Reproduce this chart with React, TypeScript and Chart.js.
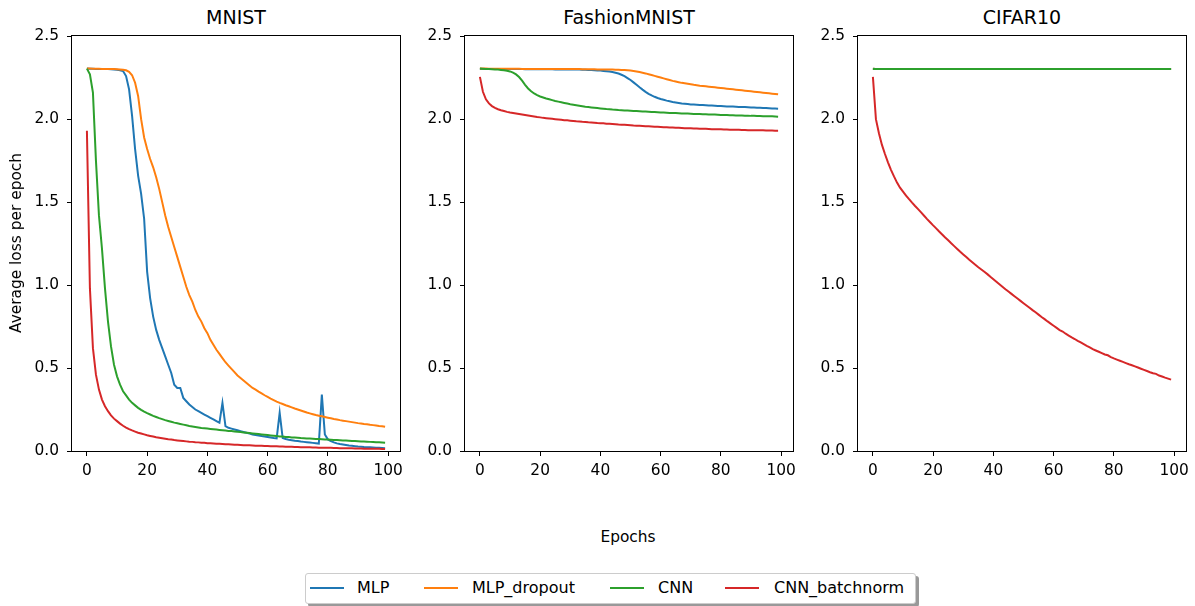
import React, { useEffect, useRef } from "react";
import { Chart, registerables } from "chart.js";

Chart.register(...registerables);

const EPOCHS = [
  0, 1, 2, 3, 4, 5, 6, 7, 8, 9, 10, 11, 12, 13, 14, 15, 16, 17, 18, 19,
  20, 21, 22, 23, 24, 25, 26, 27, 28, 29, 30, 31, 32, 33, 34, 35, 36, 37, 38, 39,
  40, 41, 42, 43, 44, 45, 46, 47, 48, 49, 50, 51, 52, 53, 54, 55, 56, 57, 58, 59,
  60, 61, 62, 63, 64, 65, 66, 67, 68, 69, 70, 71, 72, 73, 74, 75, 76, 77, 78, 79,
  80, 81, 82, 83, 84, 85, 86, 87, 88, 89, 90, 91, 92, 93, 94, 95, 96, 97, 98, 99,
];

const SERIES_NAMES = ["MLP", "MLP_dropout", "CNN", "CNN_batchnorm"];
const SERIES_COLORS = ["#1f77b4", "#ff7f0e", "#2ca02c", "#d62728"];
const PANEL_TITLES = ["MNIST", "FashionMNIST", "CIFAR10"];
const X_TICKS = [0, 20, 40, 60, 80, 100];
const Y_TICKS = [0, 0.5, 1, 1.5, 2, 2.5];

// ---------- MNIST ----------
const MNIST_MLP = [
  2.305, 2.304, 2.304, 2.303, 2.303, 2.303, 2.302, 2.302, 2.301, 2.3,
  2.298, 2.295, 2.29, 2.26, 2.18, 2.02, 1.82, 1.66, 1.55, 1.4,
  1.08, 0.92, 0.81, 0.73, 0.67, 0.62, 0.57, 0.52, 0.47, 0.4,
  0.38, 0.38, 0.32, 0.3, 0.28, 0.265, 0.25, 0.24, 0.23, 0.22,
  0.21, 0.2, 0.19, 0.18, 0.17, 0.29, 0.15, 0.14, 0.135, 0.13,
  0.125, 0.12, 0.115, 0.11, 0.105, 0.1, 0.097, 0.094, 0.09, 0.087,
  0.084, 0.081, 0.078, 0.076, 0.23, 0.078, 0.072, 0.068, 0.065, 0.062,
  0.06, 0.057, 0.055, 0.053, 0.051, 0.049, 0.047, 0.045, 0.34, 0.1,
  0.07, 0.06, 0.052, 0.046, 0.042, 0.039, 0.036, 0.033, 0.031, 0.029,
  0.027, 0.026, 0.024, 0.023, 0.022, 0.021, 0.02, 0.019, 0.018, 0.017,
];
const MNIST_MLP_DROPOUT = [
  2.305, 2.305, 2.304, 2.304, 2.304, 2.303, 2.303, 2.303, 2.302, 2.302,
  2.301, 2.3, 2.298, 2.295, 2.285, 2.265, 2.22, 2.14, 2.0, 1.89,
  1.82, 1.76, 1.71, 1.65, 1.58, 1.5, 1.42, 1.35, 1.29, 1.23,
  1.17, 1.11, 1.05, 0.99, 0.94, 0.9, 0.85, 0.81, 0.78, 0.74,
  0.71, 0.67, 0.64, 0.61, 0.585, 0.56, 0.535, 0.515, 0.495, 0.475,
  0.455, 0.44, 0.425, 0.41, 0.395, 0.38, 0.37, 0.358, 0.347, 0.336,
  0.326, 0.316, 0.307, 0.298, 0.29, 0.283, 0.276, 0.27, 0.263, 0.256,
  0.25, 0.244, 0.238, 0.232, 0.227, 0.222, 0.217, 0.213, 0.209, 0.205,
  0.201, 0.197, 0.193, 0.19, 0.186, 0.183, 0.18, 0.177, 0.174, 0.171,
  0.168, 0.166, 0.163, 0.161, 0.158, 0.156, 0.154, 0.151, 0.149, 0.146,
];
const MNIST_CNN = [
  2.305, 2.27, 2.16, 1.75, 1.42, 1.22, 0.98, 0.78, 0.63, 0.52,
  0.45, 0.4, 0.36, 0.335, 0.31, 0.29, 0.275, 0.26, 0.248, 0.237,
  0.228, 0.22, 0.212, 0.205, 0.198, 0.192, 0.186, 0.181, 0.176, 0.171,
  0.167, 0.163, 0.159, 0.155, 0.151, 0.148, 0.145, 0.142, 0.139, 0.137,
  0.135, 0.133, 0.131, 0.129, 0.127, 0.125, 0.123, 0.121, 0.12, 0.118,
  0.116, 0.114, 0.112, 0.11, 0.108, 0.106, 0.104, 0.102, 0.1, 0.098,
  0.096, 0.094, 0.092, 0.09, 0.088, 0.087, 0.085, 0.084, 0.082, 0.081,
  0.08, 0.078, 0.077, 0.076, 0.075, 0.074, 0.073, 0.072, 0.071, 0.07,
  0.069, 0.068, 0.067, 0.066, 0.065, 0.064, 0.063, 0.062, 0.061, 0.06,
  0.059, 0.058, 0.057, 0.056, 0.055, 0.054, 0.053, 0.052, 0.051, 0.05,
];
const MNIST_CNN_BN = [
  1.93, 0.98, 0.62, 0.46, 0.37, 0.31, 0.27, 0.24, 0.215, 0.195,
  0.18, 0.165, 0.152, 0.141, 0.132, 0.124, 0.117, 0.11, 0.105, 0.1,
  0.095, 0.091, 0.087, 0.083, 0.08, 0.077, 0.074, 0.071, 0.069, 0.066,
  0.064, 0.062, 0.06, 0.058, 0.056, 0.055, 0.053, 0.052, 0.05, 0.049,
  0.047, 0.046, 0.045, 0.044, 0.043, 0.042, 0.041, 0.04, 0.039, 0.038,
  0.037, 0.036, 0.035, 0.035, 0.034, 0.033, 0.032, 0.032, 0.031, 0.03,
  0.03, 0.029, 0.028, 0.028, 0.027, 0.027, 0.026, 0.025, 0.025, 0.024,
  0.024, 0.023, 0.023, 0.022, 0.022, 0.021, 0.021, 0.02, 0.02, 0.019,
  0.019, 0.019, 0.018, 0.018, 0.017, 0.017, 0.017, 0.016, 0.016, 0.015,
  0.015, 0.015, 0.014, 0.014, 0.014, 0.013, 0.013, 0.013, 0.012, 0.012,
];

// ---------- FashionMNIST ----------
const FASHION_MLP = [
  2.303, 2.303, 2.302, 2.302, 2.302, 2.302, 2.302, 2.302, 2.302, 2.302,
  2.302, 2.302, 2.302, 2.302, 2.302, 2.301, 2.301, 2.301, 2.301, 2.301,
  2.301, 2.301, 2.301, 2.301, 2.301, 2.3, 2.3, 2.3, 2.3, 2.3,
  2.3, 2.299, 2.299, 2.299, 2.298, 2.298, 2.297, 2.296, 2.295, 2.294,
  2.293, 2.291, 2.289, 2.287, 2.284, 2.28, 2.275, 2.268, 2.259, 2.248,
  2.236, 2.222, 2.207, 2.192, 2.178, 2.165, 2.153, 2.143, 2.135, 2.128,
  2.122, 2.117, 2.112, 2.108, 2.104, 2.101, 2.098, 2.095, 2.093, 2.091,
  2.089, 2.088, 2.087, 2.086, 2.085, 2.084, 2.083, 2.082, 2.081, 2.08,
  2.079, 2.078, 2.077, 2.077, 2.076, 2.075, 2.074, 2.073, 2.073, 2.072,
  2.071, 2.07, 2.069, 2.069, 2.068, 2.067, 2.066, 2.065, 2.064, 2.063,
];
const FASHION_MLP_DROPOUT = [
  2.305, 2.305, 2.305, 2.304, 2.304, 2.304, 2.304, 2.304, 2.304, 2.304,
  2.304, 2.304, 2.304, 2.304, 2.303, 2.303, 2.303, 2.303, 2.303, 2.303,
  2.303, 2.303, 2.303, 2.303, 2.303, 2.302, 2.302, 2.302, 2.302, 2.302,
  2.302, 2.302, 2.302, 2.302, 2.301, 2.301, 2.301, 2.301, 2.301, 2.3,
  2.3, 2.3, 2.3, 2.299, 2.299, 2.298, 2.298, 2.297, 2.296, 2.295,
  2.293, 2.291, 2.288, 2.284, 2.28, 2.276, 2.271, 2.266, 2.261, 2.256,
  2.251, 2.246, 2.241, 2.236, 2.231, 2.227, 2.223, 2.219, 2.216, 2.213,
  2.21, 2.207, 2.205, 2.202, 2.2, 2.198, 2.196, 2.194, 2.192, 2.19,
  2.188, 2.186, 2.184, 2.182, 2.18, 2.178, 2.176, 2.174, 2.172, 2.17,
  2.168, 2.166, 2.164, 2.162, 2.16, 2.158, 2.156, 2.154, 2.152, 2.15,
];
const FASHION_CNN = [
  2.305, 2.304, 2.303, 2.302, 2.301, 2.3, 2.299, 2.297, 2.295, 2.292,
  2.288, 2.281, 2.27, 2.254, 2.232, 2.207, 2.185, 2.168, 2.155, 2.145,
  2.137, 2.131, 2.125, 2.12, 2.115, 2.11, 2.106, 2.102, 2.098, 2.094,
  2.09, 2.087, 2.084, 2.081, 2.078, 2.075, 2.073, 2.071, 2.069, 2.067,
  2.065, 2.063, 2.061, 2.06, 2.058, 2.057, 2.055, 2.054, 2.053, 2.052,
  2.051, 2.05, 2.049, 2.048, 2.047, 2.046, 2.045, 2.044, 2.043, 2.042,
  2.041, 2.04, 2.039, 2.038, 2.038, 2.037, 2.036, 2.035, 2.035, 2.034,
  2.033, 2.032, 2.032, 2.031, 2.03, 2.03, 2.029, 2.028, 2.028, 2.027,
  2.026, 2.026, 2.025, 2.024, 2.024, 2.023, 2.023, 2.022, 2.021, 2.021,
  2.02, 2.02, 2.019, 2.019, 2.018, 2.018, 2.017, 2.017, 2.016, 2.015,
];
const FASHION_CNN_BN = [
  2.255, 2.165, 2.12, 2.095, 2.079, 2.068, 2.06, 2.054, 2.049, 2.044,
  2.04, 2.037, 2.034, 2.031, 2.028, 2.025, 2.022, 2.019, 2.016, 2.013,
  2.011, 2.008, 2.006, 2.004, 2.002, 2.0, 1.998, 1.996, 1.994, 1.993,
  1.991, 1.989, 1.987, 1.986, 1.984, 1.983, 1.981, 1.98, 1.979, 1.977,
  1.976, 1.975, 1.973, 1.972, 1.971, 1.97, 1.968, 1.967, 1.966, 1.965,
  1.964, 1.962, 1.961, 1.96, 1.959, 1.958, 1.957, 1.956, 1.955, 1.954,
  1.953, 1.952, 1.951, 1.95, 1.95, 1.949, 1.948, 1.947, 1.946, 1.946,
  1.945, 1.944, 1.944, 1.943, 1.942, 1.942, 1.941, 1.94, 1.94, 1.939,
  1.939, 1.938, 1.938, 1.937, 1.937, 1.936, 1.936, 1.935, 1.935, 1.934,
  1.934, 1.934, 1.933, 1.933, 1.933, 1.932, 1.932, 1.932, 1.931, 1.931,
];

// ---------- CIFAR10 ----------
const CIFAR_MLP = [
  2.304, 2.303, 2.303, 2.303, 2.303, 2.303, 2.303, 2.303, 2.303, 2.303,
  2.303, 2.303, 2.303, 2.303, 2.303, 2.303, 2.303, 2.303, 2.303, 2.303,
  2.303, 2.303, 2.303, 2.303, 2.303, 2.303, 2.303, 2.303, 2.303, 2.303,
  2.303, 2.303, 2.303, 2.303, 2.303, 2.303, 2.303, 2.303, 2.303, 2.303,
  2.303, 2.303, 2.303, 2.303, 2.303, 2.303, 2.303, 2.303, 2.303, 2.303,
  2.303, 2.303, 2.303, 2.303, 2.303, 2.303, 2.303, 2.303, 2.303, 2.303,
  2.303, 2.303, 2.303, 2.303, 2.303, 2.303, 2.303, 2.303, 2.303, 2.303,
  2.303, 2.303, 2.303, 2.303, 2.303, 2.303, 2.303, 2.303, 2.303, 2.303,
  2.303, 2.303, 2.303, 2.303, 2.303, 2.303, 2.303, 2.303, 2.303, 2.303,
  2.303, 2.303, 2.303, 2.303, 2.303, 2.303, 2.303, 2.303, 2.303, 2.303,
];
const CIFAR_MLP_DROPOUT = [
  2.304, 2.303, 2.303, 2.303, 2.303, 2.303, 2.303, 2.303, 2.303, 2.303,
  2.303, 2.303, 2.303, 2.303, 2.303, 2.303, 2.303, 2.303, 2.303, 2.303,
  2.303, 2.303, 2.303, 2.303, 2.303, 2.303, 2.303, 2.303, 2.303, 2.303,
  2.303, 2.303, 2.303, 2.303, 2.303, 2.303, 2.303, 2.303, 2.303, 2.303,
  2.303, 2.303, 2.303, 2.303, 2.303, 2.303, 2.303, 2.303, 2.303, 2.303,
  2.303, 2.303, 2.303, 2.303, 2.303, 2.303, 2.303, 2.303, 2.303, 2.303,
  2.303, 2.303, 2.303, 2.303, 2.303, 2.303, 2.303, 2.303, 2.303, 2.303,
  2.303, 2.303, 2.303, 2.303, 2.303, 2.303, 2.303, 2.303, 2.303, 2.303,
  2.303, 2.303, 2.303, 2.303, 2.303, 2.303, 2.303, 2.303, 2.303, 2.303,
  2.303, 2.303, 2.303, 2.303, 2.303, 2.303, 2.303, 2.303, 2.303, 2.303,
];
const CIFAR_CNN = [
  2.303, 2.303, 2.303, 2.303, 2.303, 2.303, 2.303, 2.303, 2.303, 2.303,
  2.303, 2.303, 2.303, 2.303, 2.303, 2.303, 2.303, 2.303, 2.303, 2.303,
  2.303, 2.303, 2.303, 2.303, 2.303, 2.303, 2.303, 2.303, 2.303, 2.303,
  2.303, 2.303, 2.303, 2.303, 2.303, 2.303, 2.303, 2.303, 2.303, 2.303,
  2.303, 2.303, 2.303, 2.303, 2.303, 2.303, 2.303, 2.303, 2.303, 2.303,
  2.303, 2.303, 2.303, 2.303, 2.303, 2.303, 2.303, 2.303, 2.303, 2.303,
  2.303, 2.303, 2.303, 2.303, 2.303, 2.303, 2.303, 2.303, 2.303, 2.303,
  2.303, 2.303, 2.303, 2.303, 2.303, 2.303, 2.303, 2.303, 2.303, 2.303,
  2.303, 2.303, 2.303, 2.303, 2.303, 2.303, 2.303, 2.303, 2.303, 2.303,
  2.303, 2.303, 2.303, 2.303, 2.303, 2.303, 2.303, 2.303, 2.303, 2.303,
];
const CIFAR_CNN_BN = [
  2.255, 2.0, 1.915, 1.845, 1.79, 1.74, 1.695, 1.655, 1.618, 1.587,
  1.563, 1.54, 1.518, 1.497, 1.477, 1.458, 1.438, 1.418, 1.398, 1.379,
  1.36, 1.342, 1.323, 1.305, 1.287, 1.27, 1.252, 1.235, 1.218, 1.201,
  1.185, 1.169, 1.153, 1.138, 1.123, 1.108, 1.094, 1.08, 1.066, 1.05,
  1.035, 1.02, 1.005, 0.99, 0.975, 0.961, 0.947, 0.933, 0.919, 0.905,
  0.891, 0.877, 0.863, 0.849, 0.836, 0.822, 0.808, 0.795, 0.781, 0.768,
  0.755, 0.742, 0.729, 0.72, 0.707, 0.696, 0.685, 0.675, 0.664, 0.654,
  0.644, 0.634, 0.625, 0.614, 0.606, 0.598, 0.59, 0.582, 0.577, 0.566,
  0.558, 0.551, 0.544, 0.537, 0.53, 0.523, 0.517, 0.51, 0.503, 0.496,
  0.489, 0.482, 0.475, 0.469, 0.465, 0.455, 0.449, 0.442, 0.436, 0.43,
];

const PANEL_SERIES = [
  [MNIST_MLP, MNIST_MLP_DROPOUT, MNIST_CNN, MNIST_CNN_BN],
  [FASHION_MLP, FASHION_MLP_DROPOUT, FASHION_CNN, FASHION_CNN_BN],
  [CIFAR_MLP, CIFAR_MLP_DROPOUT, CIFAR_CNN, CIFAR_CNN_BN],
];

const FONT = "'DejaVu Sans', sans-serif";
const PLOT_LEFTS = [72, 465, 858];
const PLOT_W = 328;
const PLOT_TOP = 36;
const PLOT_H = 415;
const YAXIS_W = 60;
const XAXIS_H = 40;
const PAD_TOP = 12;
const PAD_RIGHT = 10;

const boxPlugin = {
  id: "frameBox",
  afterDraw(chart: any) {
    const { ctx, chartArea: a } = chart;
    ctx.save();
    ctx.strokeStyle = "#000";
    ctx.lineWidth = 1;
    ctx.strokeRect(
      Math.round(a.left) - 0.5,
      Math.round(a.top) - 0.5,
      Math.round(a.right - a.left) + 1,
      Math.round(a.bottom - a.top) + 1
    );
    ctx.restore();
  },
};

function Panel({ index }: { index: number }) {
  const ref = useRef<HTMLCanvasElement | null>(null);
  useEffect(() => {
    const canvas = ref.current;
    if (!canvas) return;
    const series = PANEL_SERIES[index];
    const tickGrid = {
      display: true,
      drawOnChartArea: false,
      drawTicks: true,
      tickLength: 5,
      color: "#000",
      lineWidth: 1,
    };
    const chart = new Chart(canvas, {
      type: "line",
      data: {
        datasets: series.map((vals, i) => ({
          label: SERIES_NAMES[i],
          data: vals.map((v, j) => ({ x: EPOCHS[j], y: v })),
          borderColor: SERIES_COLORS[i],
          backgroundColor: SERIES_COLORS[i],
          borderWidth: 2,
          pointRadius: 0,
          tension: 0,
          fill: false,
          order: 3 - i,
        })),
      },
      options: {
        animation: false,
        responsive: false,
        maintainAspectRatio: false,
        events: [],
        layout: { padding: { top: PAD_TOP, right: PAD_RIGHT, left: 0, bottom: 0 } },
        plugins: {
          legend: { display: false },
          tooltip: { enabled: false },
          title: { display: false },
        },
        scales: {
          x: {
            type: "linear",
            min: -4.95,
            max: 103.95,
            afterBuildTicks: (s: any) => {
              s.ticks = X_TICKS.map((v) => ({ value: v }));
            },
            afterFit: (s: any) => {
              s.height = XAXIS_H;
            },
            grid: tickGrid,
            border: { display: false },
            ticks: {
              color: "#000",
              font: { family: FONT, size: 15.4 },
              padding: 6,
              maxRotation: 0,
              autoSkip: false,
              callback: (v: any) => String(v),
            },
          },
          y: {
            type: "linear",
            min: 0,
            max: 2.5,
            afterBuildTicks: (s: any) => {
              s.ticks = Y_TICKS.map((v) => ({ value: v }));
            },
            afterFit: (s: any) => {
              s.width = YAXIS_W;
            },
            grid: tickGrid,
            border: { display: false },
            ticks: {
              color: "#000",
              font: { family: FONT, size: 15.4 },
              padding: 8,
              autoSkip: false,
              callback: (v: any) => Number(v).toFixed(1),
            },
          },
        },
      } as any,
      plugins: [boxPlugin],
    });

    // Make the plotting area exactly PLOT_W x PLOT_H and place it at the intended page spot.
    for (let k = 0; k < 3; k++) {
      const a = chart.chartArea;
      const dw = Math.round(PLOT_W - (a.right - a.left));
      const dh = Math.round(PLOT_H - (a.bottom - a.top));
      if (dw === 0 && dh === 0) break;
      chart.resize(canvas.width + dw, canvas.height + dh);
    }
    const b = chart.chartArea;
    canvas.style.left = PLOT_LEFTS[index] - Math.round(b.left) + "px";
    canvas.style.top = PLOT_TOP - Math.round(b.top) + "px";

    return () => chart.destroy();
  }, [index]);

  return (
    <canvas
      ref={ref}
      width={YAXIS_W + PLOT_W + PAD_RIGHT}
      height={PAD_TOP + PLOT_H + XAXIS_H}
      style={{
        position: "absolute",
        left: PLOT_LEFTS[index] - YAXIS_W,
        top: PLOT_TOP - PAD_TOP,
      }}
    />
  );
}

const LEGEND_SWATCH_X = [310, 424, 610, 725];
const LEGEND_TEXT_X = [357, 472, 658, 774];

export default function App() {
  return (
    <div
      style={{
        position: "fixed",
        left: 0,
        top: 0,
        width: 1195,
        height: 606,
        background: "#fff",
        overflow: "hidden",
        fontFamily: FONT,
        color: "#000",
      }}
    >
      {PANEL_TITLES.map((t, i) => (
        <div
          key={t}
          style={{
            position: "absolute",
            left: PLOT_LEFTS[i],
            width: PLOT_W,
            top: 7,
            textAlign: "center",
            fontSize: 19,
            lineHeight: "20px",
            whiteSpace: "nowrap",
          }}
        >
          {t}
        </div>
      ))}
      {PANEL_TITLES.map((t, i) => (
        <Panel key={"p" + t} index={i} />
      ))}
      <div
        style={{
          position: "absolute",
          left: 16,
          top: 243,
          transform: "translate(-50%, -50%) rotate(-90deg)",
          fontSize: 15.4,
          whiteSpace: "nowrap",
          lineHeight: "18px",
        }}
      >
        Average loss per epoch
      </div>
      <div
        style={{
          position: "absolute",
          left: 628,
          top: 537,
          transform: "translate(-50%, -50%)",
          fontSize: 15.4,
          whiteSpace: "nowrap",
          lineHeight: "18px",
        }}
      >
        Epochs
      </div>
      <div
        style={{
          position: "absolute",
          left: 305,
          top: 573,
          width: 609,
          height: 29,
          border: "1px solid #cccccc",
          borderRadius: 3,
          background: "#fff",
          boxShadow: "3px 3px 0 rgba(0,0,0,0.4)",
        }}
      />
      {SERIES_NAMES.map((name, i) => (
        <React.Fragment key={name}>
          <div
            style={{
              position: "absolute",
              left: LEGEND_SWATCH_X[i],
              top: 587,
              width: 34,
              height: 2,
              background: SERIES_COLORS[i],
            }}
          />
          <div
            style={{
              position: "absolute",
              left: LEGEND_TEXT_X[i],
              top: 578,
              fontSize: 16,
              lineHeight: "20px",
              whiteSpace: "nowrap",
            }}
          >
            {name}
          </div>
        </React.Fragment>
      ))}
    </div>
  );
}
